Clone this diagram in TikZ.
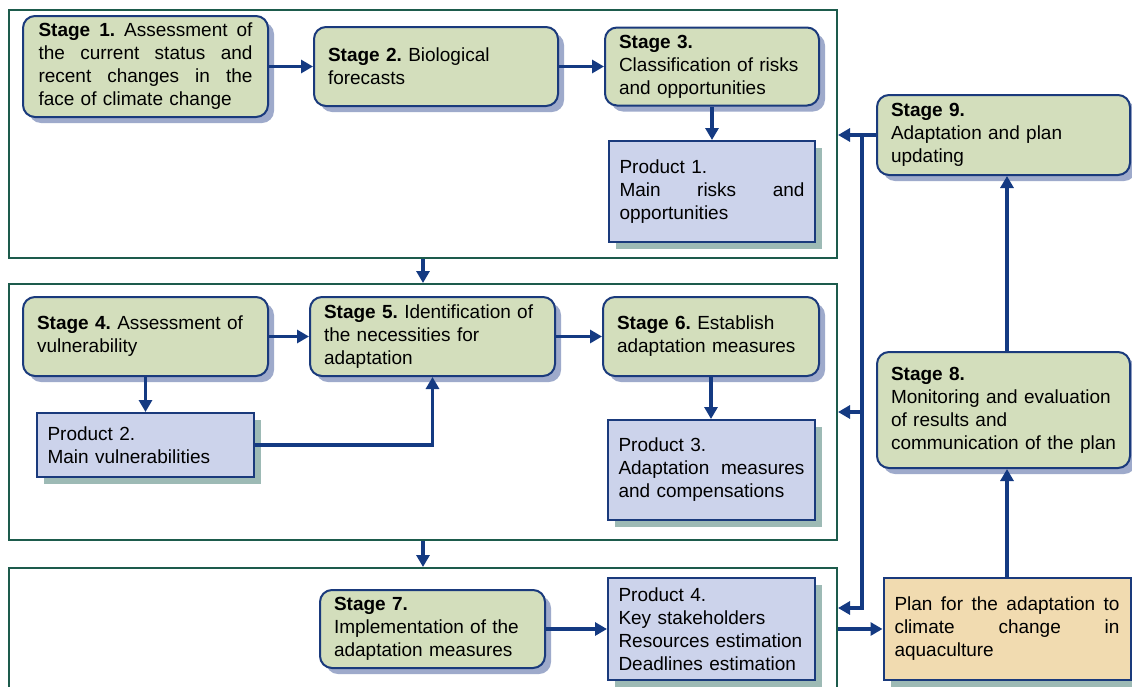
\documentclass[tikz,border=0pt]{standalone}
\usepackage{fontspec}
\setmainfont{Liberation Sans}
\usetikzlibrary{arrows.meta,shadows}
\definecolor{stagefill}{HTML}{D3DEBC}
\definecolor{stageborder}{HTML}{1A3A7C}
\definecolor{stageshadow}{HTML}{9EAACB}
\definecolor{prodfill}{HTML}{CCD3EB}
\definecolor{prodshadow}{HTML}{9DBAB5}
\definecolor{planfill}{HTML}{F1DBB0}
\definecolor{framecol}{HTML}{1D5B4C}
\definecolor{arrowcol}{HTML}{143A82}
\newcommand{\jline}[2]{\leavevmode\hbox to #1{\spaceskip=0.28em plus 1fil\relax #2}}
\tikzset{
  boxtext/.style={font=\fontsize{19}{23}\selectfont\frenchspacing, align=left, inner ysep=0pt},
  stagebox/.style={boxtext, draw=stageborder, line width=2pt, fill=stagefill,
    rounded corners=12pt, inner xsep=14pt,
    drop shadow={shadow xshift=6pt, shadow yshift=-6pt, fill=stageshadow, opacity=1}},
  prodbox/.style={boxtext, draw=stageborder, line width=2pt, fill=prodfill,
    inner xsep=10.5pt,
    drop shadow={shadow xshift=7pt, shadow yshift=-7pt, fill=prodshadow, opacity=1}},
  planbox/.style={boxtext, draw=stageborder, line width=2pt, fill=planfill,
    inner xsep=11pt,
    drop shadow={shadow xshift=7pt, shadow yshift=-7pt, fill=prodshadow, opacity=1}},
  framebox/.style={draw=framecol, line width=2pt, inner sep=0pt},
  arr/.style={draw=arrowcol, line width=3.2pt, line join=miter, -{Triangle[length=12pt,width=13pt]}}
}
\begin{document}
\begin{tikzpicture}[x=1pt,y=-1pt]
\path[use as bounding box] (0,0) rectangle (1132,686);
\clip (0,0) rectangle (1132,686);
\fill[white] (0,0) rectangle (1132,686);

% frames
\node[framebox, minimum width=828pt, minimum height=248pt] (f1) at (423,134) {};
\node[framebox, minimum width=828pt, minimum height=256pt] (f2) at (423,412) {};
\node[framebox, minimum width=828pt, minimum height=140pt] (f3) at (423,638) {};

% stage boxes
\node[stagebox, text width=214pt, inner xsep=15.5pt, minimum height=101pt] (s1) at (145.5,66.5)
  {\jline{214pt}{\textbf{Stage 1.} Assessment of}\\\jline{214pt}{the current status and}\\\jline{214pt}{recent changes in the}\\face of climate change};
\node[stagebox, text width=216pt, minimum height=79pt] (s2) at (436,66.5)
  {\textbf{Stage 2.} Biological\\forecasts};
\node[stagebox, text width=186pt, minimum height=78pt] (s3) at (712,66.5)
  {\textbf{Stage 3.}\\Classification of risks\\and opportunities};
\node[prodbox, text width=185pt, minimum height=101pt] (p1) at (712,191.5)
  {Product 1.\\\jline{185pt}{Main risks and}\\opportunities};

\node[stagebox, text width=217pt, minimum height=79pt] (s4) at (145.5,336.5)
  {\textbf{Stage 4.} Assessment of\\vulnerability};
\node[stagebox, text width=217pt, minimum height=79pt] (s5) at (432.5,336.5)
  {\textbf{Stage 5.} Identification of\\the necessities for\\adaptation};
\node[stagebox, text width=188pt, minimum height=79pt] (s6) at (711,336.5)
  {\textbf{Stage 6.} Establish\\adaptation measures};
\node[prodbox, text width=196pt, minimum height=64pt] (p2) at (145.5,445)
  {Product 2.\\Main vulnerabilities};
\node[prodbox, text width=186pt, minimum height=100pt] (p3) at (711.5,470)
  {Product 3.\\\jline{186pt}{Adaptation measures}\\and compensations};

\node[stagebox, text width=197pt, minimum height=78pt] (s7) at (432.5,629)
  {\textbf{Stage 7.}\\Implementation of the\\adaptation measures};
\node[prodbox, text width=186pt, minimum height=102pt] (p4) at (711.5,629)
  {Product 4.\\Key stakeholders\\Resources estimation\\Deadlines estimation};

\node[planbox, text width=225pt, minimum height=102pt] (plan) at (1007,629)
  {\jline{225pt}{Plan for the adaptation to}\\\jline{225pt}{climate change in}\\aquaculture};
\node[stagebox, text width=225pt, inner xsep=14pt, minimum height=116pt] (s8) at (1003.5,410)
  {\textbf{Stage 8.}\\Monitoring and evaluation\\of results and\\communication of the plan};
\node[stagebox, text width=225pt, minimum height=80pt] (s9) at (1003.5,135)
  {\textbf{Stage 9.}\\Adaptation and plan\\updating};

% connectors inside frames
\draw[arr] (s1.east) -- (s2.west);
\draw[arr] (s2.east) -- (s3.west);
\draw[arr] (s3.south) -- (p1.north);
\draw[arr] (s4.east) -- (s5.west);
\draw[arr] (s5.east) -- (s6.west);
\draw[arr] (s4.south) -- (p2.north);
\draw[arr] (p2.east) -| (s5.south);
\draw[arr] (s6.south) -- (s6.south |- p3.north);
\draw[arr] (s7.east) -- (p4.west);

% between frames
\draw[arr] (f1.south) -- (f2.north);
\draw[arr] (f2.south) -- (f3.north);

% right side
\draw[arr] (plan.west -| f3.east) -- (plan.west);
\draw[arr] (plan.north) -- (plan.north |- s8.south);
\draw[arr] (plan.north |- s8.north) -- (plan.north |- s9.south);

% feedback
\coordinate (fbtop) at (862,135);
\coordinate (fbmid) at (862,412);
\coordinate (fbbot) at (862,608);
\draw[arr] (s9.west) -- (s9.west -| f1.east);
\draw[arr] (fbtop) -- (fbbot) -- (fbbot -| f3.east);
\draw[arr] (fbmid) -- (fbmid -| f2.east);
\end{tikzpicture}
\end{document}
